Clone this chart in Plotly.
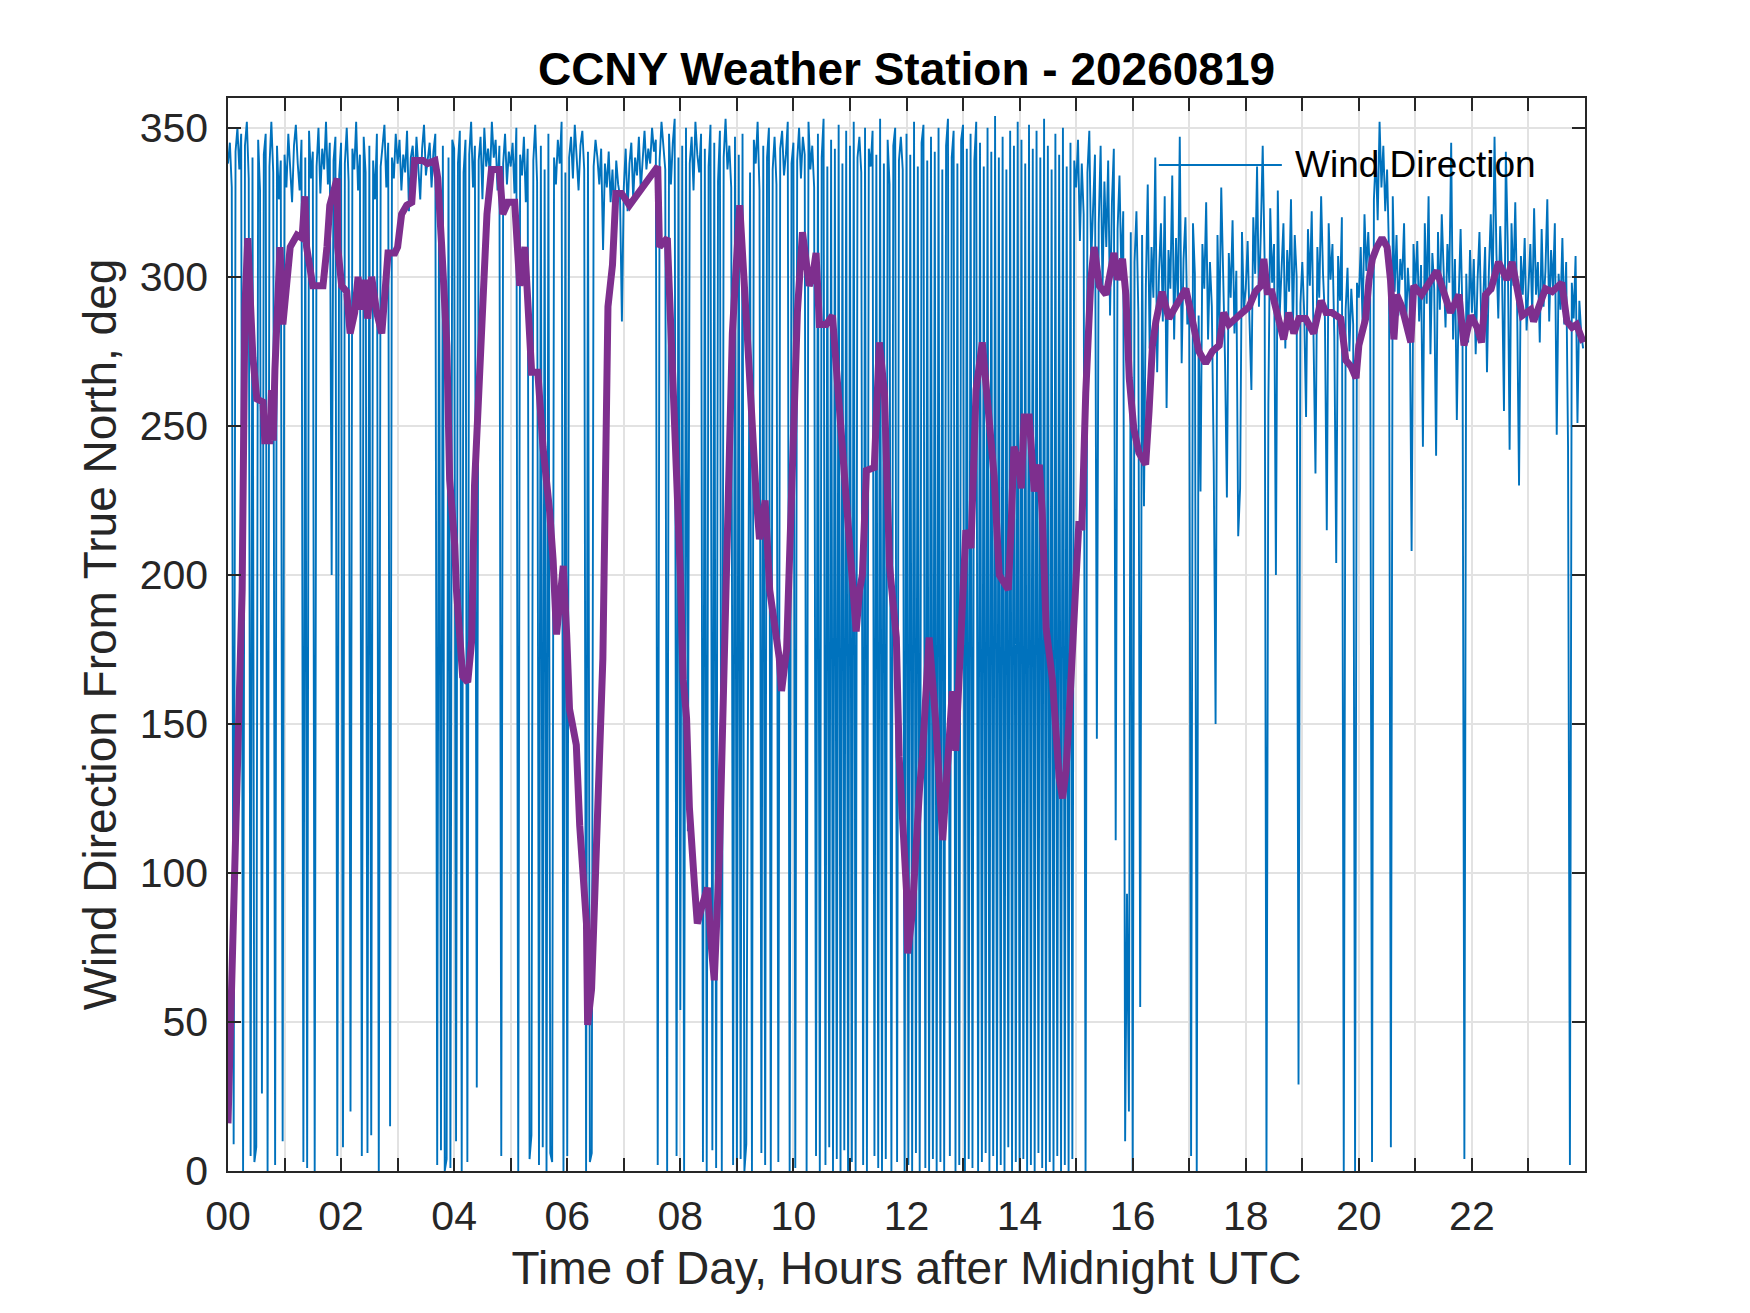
import plotly.graph_objs as go

# Wind direction samples, one list per hour of the day (every 2 minutes)
dir_h00 = [338, 345, 330, 9, 342, 350, 336, 348, 0, 344, 352, 333, 5, 340, 3, 8, 346, 329, 26, 341, 348, 0, 337, 352, 335, 2, 344, 326, 339, 10]
dir_h01 = [341, 330, 348, 336, 325, 344, 351, 338, 329, 346, 3, 340, 1, 349, 333, 342, 0, 337, 350, 328, 343, 336, 352, 331, 345, 200, 339, 347, 5, 334]
dir_h02 = [345, 8, 338, 350, 332, 20, 343, 336, 352, 329, 341, 5, 347, 335, 6, 344, 12, 339, 326, 348, 0, 337, 343, 351, 330, 345, 15, 340, 333, 348]
dir_h03 = [338, 346, 329, 341, 335, 349, 322, 340, 344, 331, 347, 337, 326, 343, 351, 334, 339, 345, 330, 342, 348, 2, 336, 7, 344, 0, 4, 340, 1, 346]
dir_h04 = [343, 10, 338, 349, 0, 335, 346, 3, 341, 352, 330, 344, 28, 339, 347, 326, 350, 337, 343, 333, 352, 340, 346, 329, 344, 5, 338, 348, 331, 342]
dir_h05 = [337, 345, 328, 350, 0, 341, 334, 347, 325, 343, 4, 12, 339, 351, 332, 2, 344, 8, 336, 0, 348, 6, 3, 340, 331, 346, 338, 352, 0, 335]
dir_h06 = [5, 340, 347, 333, 351, 338, 329, 344, 349, 336, 0, 342, 3, 6, 337, 346, 340, 331, 343, 309, 338, 330, 342, 325, 336, 320, 339, 331, 327, 285]
dir_h07 = [330, 343, 322, 338, 345, 326, 340, 334, 347, 329, 341, 349, 336, 343, 338, 350, 342, 346, 2, 339, 352, 344, 336, 0, 348, 331, 345, 353, 5, 340]
dir_h08 = [54, 344, 0, 350, 114, 338, 347, 329, 352, 341, 335, 348, 3, 343, 0, 337, 351, 7, 345, 1, 332, 349, 0, 340, 353, 336, 344, 330, 2, 347]
dir_h09 = [0, 341, 4, 348, 0, 9, 150, 335, 0, 346, 338, 352, 329, 6, 344, 2, 340, 350, 0, 336, 347, 331, 3, 343, 349, 334, 341, 352, 0, 338]
dir_h10 = [345, 1, 339, 350, 333, 347, 341, 0, 352, 336, 344, 330, 5, 348, 0, 340, 353, 2, 337, 8, 346, 0, 343, 4, 351, 0, 338, 7, 349, 0]
dir_h11 = [344, 3, 352, 0, 340, 347, 335, 2, 350, 0, 343, 337, 349, 5, 341, 1, 353, 0, 338, 4, 346, 331, 0, 344, 350, 3, 339, 347, 336, 0]
dir_h12 = [348, 2, 341, 0, 352, 6, 337, 0, 345, 351, 1, 339, 0, 347, 4, 342, 0, 350, 3, 336, 0, 344, 353, 5, 340, 349, 0, 338, 2, 346]
dir_h13 = [351, 0, 343, 4, 348, 1, 339, 352, 0, 345, 3, 337, 6, 350, 0, 342, 5, 354, 0, 340, 2, 347, 0, 336, 8, 349, 0, 344, 3, 352]
dir_h14 = [0, 346, 4, 338, 0, 351, 2, 343, 0, 349, 6, 340, 1, 353, 0, 344, 3, 336, 0, 348, 5, 341, 0, 350, 2, 337, 0, 345, 4, 339]
dir_h15 = [330, 346, 312, 338, 321, 0, 335, 349, 305, 327, 341, 145, 318, 344, 296, 332, 310, 339, 287, 325, 343, 111, 316, 334, 301, 322, 10, 93, 20, 315]
dir_h16 = [0, 305, 322, 288, 55, 314, 223, 297, 331, 276, 310, 293, 340, 268, 302, 318, 285, 327, 256, 309, 296, 334, 279, 313, 290, 347, 271, 306, 320, 284]
dir_h17 = [292, 5, 318, 301, 0, 287, 228, 311, 296, 325, 279, 305, 290, 238, 150, 314, 283, 330, 298, 272, 226, 308, 293, 319, 281, 302, 213, 229, 315, 289]
dir_h18 = [296, 312, 285, 262, 320, 301, 337, 290, 315, 344, 306, 0, 257, 323, 298, 311, 200, 329, 287, 303, 318, 276, 309, 295, 326, 282, 314, 300, 29, 291]
dir_h19 = [305, 288, 253, 316, 297, 322, 284, 234, 310, 293, 327, 301, 286, 215, 318, 299, 311, 280, 204, 307, 292, 320, 0, 289, 303, 275, 296, 284, 0, 298]
dir_h20 = [293, 310, 284, 321, 302, 315, 298, 3, 326, 341, 319, 352, 330, 344, 322, 336, 308, 8, 327, 295, 314, 287, 306, 299, 318, 281, 303, 292, 208, 311]
dir_h21 = [297, 312, 285, 304, 243, 318, 291, 327, 274, 308, 296, 240, 315, 289, 321, 303, 283, 311, 298, 345, 279, 306, 252, 293, 316, 287, 4, 301, 278, 309]
dir_h22 = [288, 306, 274, 299, 315, 283, 292, 310, 268, 302, 321, 295, 347, 308, 286, 317, 300, 255, 342, 311, 242, 318, 297, 325, 290, 230, 307, 294, 313, 282]
dir_h23 = [299, 311, 287, 323, 294, 305, 278, 316, 290, 302, 326, 285, 309, 296, 318, 247, 301, 289, 313, 284, 305, 243, 2, 298, 286, 307, 251, 292, 281, 276]

# Running average of the direction (purple curve)
avg_hours = [0.00, 0.03, 0.09, 0.18, 0.25, 0.30, 0.35, 0.40, 0.44, 0.51, 0.62, 0.65, 0.74, 0.77, 0.80, 0.83, 0.87, 0.92, 0.97,
             1.04, 1.10, 1.22, 1.31, 1.36, 1.39, 1.50, 1.68, 1.75, 1.80, 1.93, 1.94,
             2.01, 2.10, 2.16, 2.24, 2.30, 2.37, 2.42, 2.47, 2.54, 2.63, 2.72, 2.77, 2.83, 2.95,
             3.00, 3.07, 3.16, 3.25, 3.30, 3.45, 3.53, 3.66, 3.71, 3.78, 3.87, 3.92,
             4.01, 4.04, 4.15, 4.24, 4.31, 4.36, 4.45, 4.50, 4.58, 4.66, 4.80, 4.86, 4.95,
             5.07, 5.12, 5.16, 5.25, 5.30, 5.37, 5.48, 5.57, 5.69, 5.75, 5.81, 5.87, 5.93, 5.99,
             6.04, 6.16, 6.22, 6.34, 6.36, 6.43, 6.48, 6.54, 6.63, 6.72, 6.80, 6.86, 6.96,
             7.10, 7.60, 7.63, 7.77, 7.80, 7.93,
             8.00, 8.05, 8.11, 8.16, 8.25, 8.30, 8.40, 8.48, 8.55, 8.60, 8.69, 8.75, 8.80, 8.87, 8.92,
             9.05, 9.10, 9.20, 9.34, 9.40, 9.50, 9.58, 9.75, 9.79, 9.88, 9.93, 9.98,
             10.07, 10.16, 10.28, 10.34, 10.40, 10.46, 10.58, 10.69, 10.76, 10.81, 10.90, 10.99,
             11.05, 11.11, 11.17, 11.22, 11.29, 11.43, 11.52, 11.61, 11.70, 11.82, 11.87,
             12.00, 12.02, 12.10, 12.23, 12.28, 12.40, 12.46, 12.52, 12.64, 12.70, 12.76, 12.81, 12.87, 12.93, 12.99,
             13.05, 13.14, 13.23, 13.34, 13.43, 13.55, 13.64, 13.72, 13.80, 13.85, 13.90, 13.99,
             14.03, 14.08, 14.17, 14.26, 14.35, 14.40, 14.47, 14.58, 14.70, 14.76, 14.82, 14.88, 14.96,
             15.05, 15.10, 15.17, 15.26, 15.32, 15.41, 15.53, 15.67, 15.73, 15.82, 15.88, 15.94,
             16.02, 16.11, 16.23, 16.29, 16.35, 16.41, 16.52, 16.64, 16.76, 16.94,
             17.05, 17.17, 17.29, 17.41, 17.53, 17.61, 17.70, 17.82, 17.94,
             18.06, 18.17, 18.27, 18.32, 18.38, 18.46, 18.59, 18.67, 18.76, 18.85, 18.94,
             19.06, 19.20, 19.33, 19.42, 19.52, 19.68, 19.77, 19.86, 19.95,
             20.00, 20.12, 20.18, 20.24, 20.32, 20.41, 20.50, 20.56, 20.62, 20.67, 20.76, 20.92, 20.97,
             21.11, 21.38, 21.50, 21.62, 21.77, 21.86, 21.98,
             22.09, 22.17, 22.24, 22.34, 22.47, 22.62, 22.71, 22.89,
             23.04, 23.09, 23.30, 23.42, 23.59, 23.68, 23.77, 23.85, 23.97]
avg_dir = [16, 39, 86, 150, 195, 290, 313, 290, 273, 259, 258, 245, 245, 262, 245, 269, 283, 310, 284,
           299, 310, 314, 313, 327, 310, 297, 297, 310, 324, 333, 310,
           297, 295, 281, 288, 300, 289, 299, 286, 300, 288, 281, 295, 308, 308,
           310, 321, 324, 325, 339, 339, 338, 339, 333, 310, 277, 232,
           210, 195, 166, 164, 178, 230, 268, 297, 321, 336, 336, 321, 325,
           325, 310, 297, 310, 295, 268, 268, 243, 221, 205, 180, 195, 203, 180,
           155, 143, 116, 83, 49, 61, 83, 122, 172, 290, 304, 328, 328,
           324, 337, 310, 313, 300, 235,
           200, 165, 152, 122, 96, 83, 90, 95, 75, 64, 105, 150, 189, 255, 281,
           324, 310, 275, 227, 212, 225, 195, 172, 161, 175, 206, 243,
           288, 315, 297, 300, 308, 284, 284, 287, 270, 259, 237, 215,
           200, 181, 195, 200, 235, 236, 278, 261, 203, 179, 139,
           94, 73, 86, 128, 139, 179, 166, 150, 111, 128, 139, 161, 141, 163, 183,
           215, 209, 262, 278, 259, 233, 200, 197, 195, 216, 243, 237,
           229, 253, 253, 228, 237, 221, 182, 165, 132, 125, 134, 154, 182,
           218, 215, 261, 299, 310, 297, 294, 308, 299, 306, 294, 266,
           249, 241, 237, 255, 277, 285, 295, 286, 290, 296,
           286, 275, 271, 275, 277, 288, 284, 286, 288,
           290, 295, 297, 306, 295, 295, 286, 279, 288, 281, 286,
           286, 281, 292, 288, 288, 286, 272, 270, 266,
           277, 286, 299, 306, 310, 313, 310, 299, 279, 294, 290, 278, 297,
           294, 302, 295, 288, 294, 277, 287,
           283, 278, 294, 296, 305, 299, 305, 287,
           289, 285, 296, 295, 298, 285, 283, 284, 278]

tick_hours = list(range(24))
tick_labels = ["00", "", "02", "", "04", "", "06", "", "08", "", "10", "", "12", "",
               "14", "", "16", "", "18", "", "20", "", "22", ""]

hourly = [dir_h00, dir_h01, dir_h02, dir_h03, dir_h04, dir_h05, dir_h06, dir_h07,
          dir_h08, dir_h09, dir_h10, dir_h11, dir_h12, dir_h13, dir_h14, dir_h15,
          dir_h16, dir_h17, dir_h18, dir_h19, dir_h20, dir_h21, dir_h22, dir_h23]

wind_t = []
wind_dir = []
for h, vals in enumerate(hourly):
    step = 1.0 / len(vals)
    for k, v in enumerate(vals):
        wind_t.append(h + k * step)
        wind_dir.append(v)

FONT = "Liberation Sans, Arial, sans-serif"
BLUE = "#0072BD"
PURPLE = "#7E2F8E"
AXIS = "#262626"

fig = go.Figure()
fig.add_trace(go.Scatter(
    x=wind_t, y=wind_dir, mode="lines", name="Wind Direction",
    line=dict(color=BLUE, width=1.9), showlegend=False,
))
fig.add_trace(go.Scatter(
    x=avg_hours, y=avg_dir, mode="lines", name="Average",
    line=dict(color=PURPLE, width=7), showlegend=False,
))

# legend drawn by hand, MATLAB style (long line sample, no box)
fig.add_shape(type="line", xref="paper", yref="paper",
              x0=0.686, x1=0.7766, y0=0.9376, y1=0.9376,
              line=dict(color=BLUE, width=1.9), layer="above")
fig.add_annotation(xref="paper", yref="paper", x=0.785, y=0.9376,
                   text="Wind Direction", showarrow=False,
                   xanchor="left", yanchor="middle",
                   font=dict(family=FONT, size=37, color="black"))

fig.update_layout(
    width=1750, height=1313,
    paper_bgcolor="white", plot_bgcolor="white",
    margin=dict(l=220, r=173, t=90, b=150),
    font=dict(family=FONT, color=AXIS),
    title=dict(text="<b>CCNY Weather Station - 20260819</b>",
               x=0.5, xref="paper", xanchor="center",
               y=1 - 61 / 1313, yref="container", yanchor="middle",
               font=dict(family=FONT, size=46, color="black")),
)
fig.update_xaxes(
    range=[0, 24], tickmode="array", tickvals=tick_hours, ticktext=tick_labels,
    ticks="inside", ticklen=13, tickwidth=1.5, tickcolor=AXIS,
    showline=True, linecolor=AXIS, linewidth=1.5, mirror="ticks",
    showgrid=True, gridcolor="#E2E2E2", gridwidth=1.5, zeroline=False,
    tickfont=dict(family=FONT, size=41, color=AXIS),
    ticklabelstandoff=8,
    title=dict(text="Time of Day, Hours after Midnight UTC",
               font=dict(family=FONT, size=46, color=AXIS), standoff=14),
)
fig.update_yaxes(
    range=[0, 360], tickmode="array", tickvals=[0, 50, 100, 150, 200, 250, 300, 350],
    ticks="inside", ticklen=13, tickwidth=1.5, tickcolor=AXIS,
    showline=True, linecolor=AXIS, linewidth=1.5, mirror="ticks",
    showgrid=True, gridcolor="#E2E2E2", gridwidth=1.5, zeroline=False,
    tickfont=dict(family=FONT, size=41, color=AXIS),
    ticklabelstandoff=10,
    title=dict(text="Wind Direction From True North, deg",
               font=dict(family=FONT, size=46, color=AXIS), standoff=9),
)

fig.write_html("out.html")
